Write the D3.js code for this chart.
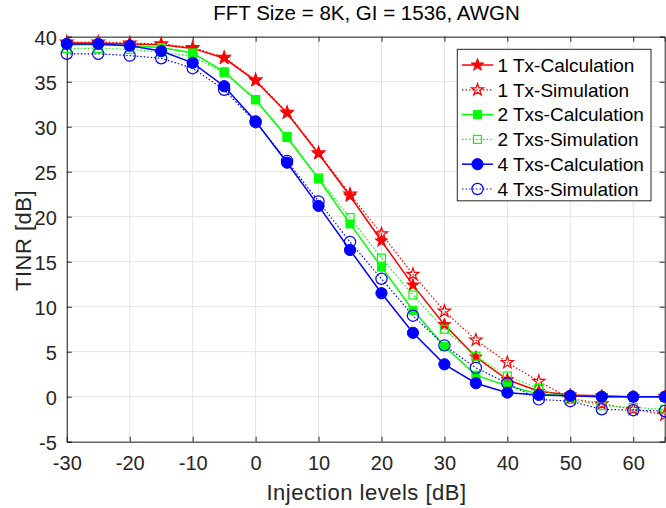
<!DOCTYPE html>
<html><head><meta charset="utf-8">
<script src="https://cdn.jsdelivr.net/npm/d3@7"></script>
<style>body{margin:0;background:#fff}svg{display:block;font-family:"Liberation Sans",Arial,sans-serif}</style>
</head><body>
<svg id="c" width="666" height="508"></svg>
<script>
const xs = [-30,-25,-20,-15,-10,-5,0,5,10,15,20,25,30,35,40,45,50,55,60,65];
const tx1Calc = [39.3,39.3,39.2,39.1,38.7,37.6,35.1,31.5,27.0,22.3,17.3,12.4,8.0,4.4,1.9,0.6,0.2,0.1,0.0,0.0];
const tx1Sim  = [39.4,39.4,39.3,39.2,38.8,37.7,35.2,31.6,27.1,22.5,18.1,13.6,9.5,6.3,3.8,1.7,-0.2,-0.8,-1.4,-2.0];
const tx2Calc = [39.1,39.1,39.0,38.8,38.2,36.1,33.0,28.8,24.2,19.2,14.4,9.6,5.6,2.4,1.2,0.3,0.1,0.0,0.0,0.0];
const tx2Sim  = [38.7,38.7,38.6,38.3,37.8,36.0,33.0,28.9,24.3,19.9,15.4,11.3,7.5,4.5,2.3,0.9,-0.3,-1.0,-1.2,-1.4];
const tx4Calc = [39.2,39.2,39.0,38.4,37.1,34.5,30.6,26.0,21.2,16.3,11.5,7.1,3.6,1.5,0.45,0.2,0.1,0.0,0.0,0.0];
const tx4Sim  = [38.1,38.1,37.9,37.6,36.5,34.1,30.5,26.2,21.7,17.2,13.1,9.0,5.7,3.2,1.5,-0.3,-0.5,-1.4,-1.5,-1.6];
const xTicks = [-30,-20,-10,0,10,20,30,40,50,60];
const yTicks = [-5,0,5,10,15,20,25,30,35,40];
const seriesNames = ["1 Tx-Calculation","1 Tx-Simulation","2 Txs-Calculation","2 Txs-Simulation","4 Txs-Calculation","4 Txs-Simulation"];

const series = [
  {name:seriesNames[0], v:tx1Calc, color:"#ff0000", dash:null, marker:"star", fill:true},
  {name:seriesNames[1], v:tx1Sim,  color:"#ff0000", dash:"1.5,2", marker:"star", fill:false},
  {name:seriesNames[2], v:tx2Calc, color:"#00ff00", dash:null, marker:"square", fill:true},
  {name:seriesNames[3], v:tx2Sim,  color:"#00ff00", dash:"1.5,2", marker:"square", fill:false},
  {name:seriesNames[4], v:tx4Calc, color:"#0000ff", dash:null, marker:"circle", fill:true},
  {name:seriesNames[5], v:tx4Sim,  color:"#0000ff", dash:"1.5,2", marker:"circle", fill:false}
];

const L=66.8, R=664.7, T=36.7, B=441.7;
const svg = d3.select("#c");
const x = d3.scaleLinear().domain([-30,65]).range([L,R]);
const y = d3.scaleLinear().domain([-5,40]).range([B,T]);

// grid
const g = svg.append("g");
g.selectAll(".gx").data(xTicks).join("line").attr("x1",d=>x(d)).attr("x2",d=>x(d)).attr("y1",T).attr("y2",B).attr("stroke","#e3e3e3").attr("stroke-width",1);
g.selectAll(".gy").data(yTicks).join("line").attr("y1",d=>y(d)).attr("y2",d=>y(d)).attr("x1",L).attr("x2",R).attr("stroke","#e3e3e3").attr("stroke-width",1);

// axes
const axCol="#262626";
const fmt = d=>String(d);
const xa = svg.append("g").attr("transform",`translate(0,${B})`).call(d3.axisBottom(x).tickValues(xTicks).tickSize(-5).tickPadding(14).tickFormat(fmt));
const xt = svg.append("g").attr("transform",`translate(0,${T})`).call(d3.axisTop(x).tickValues(xTicks).tickSize(-5).tickFormat(""));
const ya = svg.append("g").attr("transform",`translate(${L},0)`).call(d3.axisLeft(y).tickValues(yTicks).tickSize(-5).tickPadding(10).tickFormat(fmt));
const yr = svg.append("g").attr("transform",`translate(${R},0)`).call(d3.axisRight(y).tickValues(yTicks).tickSize(-5).tickFormat(""));
[xa,xt,ya,yr].forEach(a=>{
  a.select(".domain").attr("stroke",axCol).attr("stroke-width",1);
  a.selectAll(".tick line").attr("stroke",axCol);
  a.selectAll(".tick text").attr("fill","#262626").attr("font-size",20).attr("font-family","Liberation Sans, Arial, sans-serif");
});
ya.selectAll(".tick text").attr("dy","0.4em");

// lines
const line = d3.line().x((d,i)=>x(xs[i])).y(d=>y(d));
const plot = svg.append("g");
series.forEach(s=>{
  plot.append("path").datum(s.v).attr("d",line).attr("fill","none").attr("stroke",s.color)
    .attr("stroke-width",s.dash?1.2:1.5).attr("stroke-dasharray",s.dash);
});

function drawMarker(sel, s, cx, cy){
  let m;
  if(s.marker==="star"){
    m = sel.append("path").attr("d",d3.symbol(d3.symbolStar, s.fill?48:46)()).attr("transform",`translate(${cx},${cy})`);
  } else if(s.marker==="square"){
    const a = 8;
    m = sel.append("rect").attr("x",cx-a/2).attr("y",cy-a/2).attr("width",a).attr("height",a);
  } else {
    m = sel.append("circle").attr("cx",cx).attr("cy",cy).attr("r",5.6);
  }
  m.attr("fill",s.fill?s.color:"none").attr("stroke",s.color).attr("stroke-width",s.fill?1:1.2);
}
series.forEach(s=>{
  s.v.forEach((d,i)=>drawMarker(plot,s,x(xs[i]),y(d)));
});

// legend
const lg = svg.append("g");
lg.append("rect").attr("x",457.3).attr("y",49.3).attr("width",193.7).attr("height",151.5).attr("fill","#fff").attr("stroke","#262626").attr("stroke-width",1);
series.forEach((s,i)=>{
  const yy = 65 + i*24.8;
  lg.append("line").attr("x1",462).attr("x2",493).attr("y1",yy).attr("y2",yy).attr("stroke",s.color).attr("stroke-width",s.dash?1.2:1.5).attr("stroke-dasharray",s.dash);
  drawMarker(lg,s,477.5,yy);
  lg.append("text").attr("x",497.5).attr("y",yy).attr("dy","0.36em").attr("font-size",19).attr("fill","#000").text(s.name);
});

// labels
svg.append("text").attr("x",366.5).attr("y",20).attr("text-anchor","middle").attr("font-size",20.5).attr("fill","#000").text("FFT Size = 8K, GI = 1536, AWGN");
svg.append("text").attr("x",366.5).attr("y",499.5).attr("text-anchor","middle").attr("font-size",22).attr("letter-spacing",0.5).attr("fill","#262626").text("Injection levels [dB]");
svg.append("text").attr("transform",`translate(31,240.5) rotate(-90)`).attr("text-anchor","middle").attr("font-size",22).attr("letter-spacing",0.5).attr("fill","#262626").text("TINR [dB]");
</script>
</body></html>
